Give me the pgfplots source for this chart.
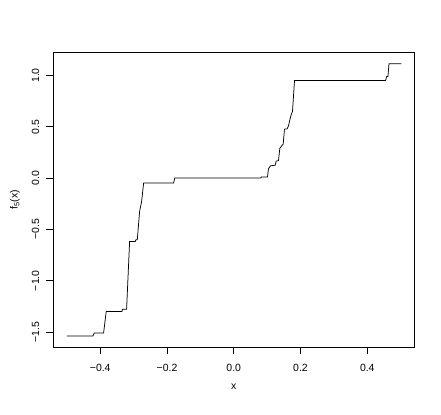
\documentclass[border=0pt]{standalone}
\usepackage{fontspec}
\setmainfont{Liberation Sans}
\usepackage{pgfplots}
\pgfplotsset{compat=1.18}

\begin{document}
\begin{tikzpicture}
\useasboundingbox (-53.5bp,-68bp) rectangle (387.5bp,347bp);
\begin{axis}[
	scale only axis,
	width=360.5bp, height=294.3bp,
	xmin=-0.54, xmax=0.54,
	ymin=-1.646, ymax=1.222,
	axis line style={line width=0.75bp},
	tick style={line width=0.75bp, black},
	tick align=outside,
	major tick length=7bp,
	xtick pos=bottom, ytick pos=left,
	xtick={-0.4,-0.2,0,0.2,0.4},
	xticklabels={−0.4,−0.2,0.0,0.2,0.4},
	ytick={-1.5,-1,-0.5,0,0.5,1},
	yticklabels={−1.5,−1.0,−0.5,0.0,0.5,1.0},
	tick label style={font=\fontsize{10.5}{12}\selectfont},
	xticklabel style={anchor=north, inner sep=0pt, yshift=-10bp},
	yticklabel style={xshift=-7bp, rotate=90, anchor=south, inner sep=0pt},
	xlabel={x},
	ylabel={f\textsubscript{5}(x)},
	label style={font=\fontsize{10.5}{12}\selectfont},
	xlabel style={at={(axis description cs:0.5,0)}, anchor=base, yshift=-42bp},
	ylabel style={at={(axis description cs:0,0.5)}, anchor=center, yshift=38.5bp},
]
\addplot[black, line width=0.75bp] coordinates {
	(-0.500,-1.540) (-0.422,-1.540) (-0.418,-1.510) (-0.390,-1.510)
	(-0.382,-1.300) (-0.335,-1.300) (-0.333,-1.277) (-0.321,-1.277)
	(-0.312,-0.618) (-0.295,-0.618) (-0.293,-0.600) (-0.289,-0.600)
	(-0.282,-0.325) (-0.276,-0.228) (-0.270,-0.048) (-0.180,-0.048)
	(-0.177,0.000) (0.080,0.000) (0.083,0.010) (0.101,0.010)
	(0.104,0.090) (0.110,0.120) (0.124,0.125) (0.127,0.165)
	(0.134,0.170) (0.138,0.290) (0.145,0.320) (0.148,0.330)
	(0.152,0.477) (0.160,0.480) (0.164,0.510) (0.169,0.580)
	(0.172,0.617) (0.176,0.649) (0.182,0.951) (0.455,0.951)
	(0.458,0.990) (0.462,0.990) (0.465,1.114) (0.502,1.114)
};
\end{axis}
\end{tikzpicture}
\end{document}
